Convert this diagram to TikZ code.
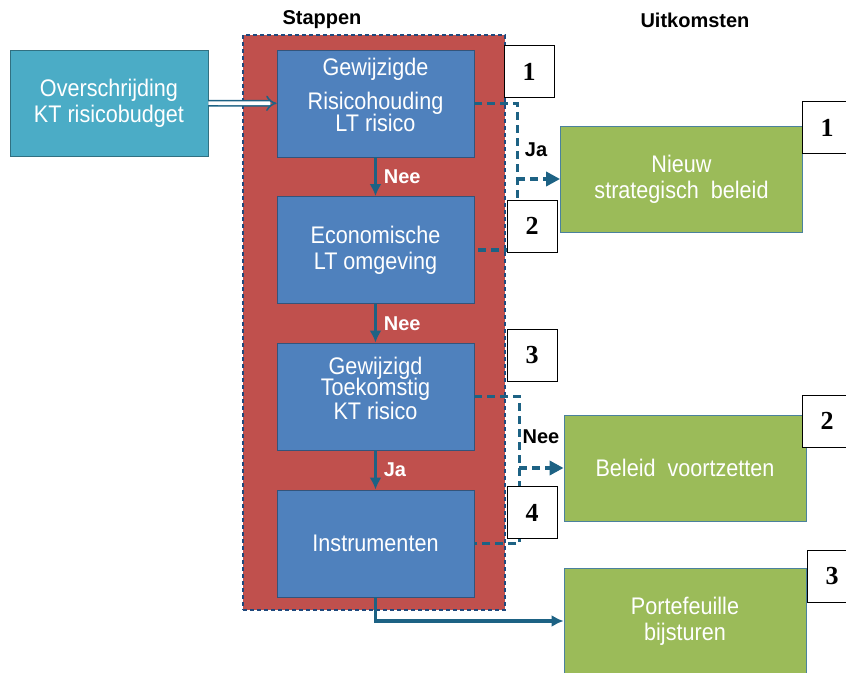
\documentclass[tikz,border=0pt]{standalone}
\usepackage{fontspec}
\setsansfont{Liberation Sans}
\newfontfamily\narrowfont[FakeStretch=0.9]{Liberation Sans}
\newfontfamily\numfont{Liberation Serif}
\usetikzlibrary{arrows.meta}
\definecolor{ktteal}{HTML}{4BACC6}
\definecolor{stapred}{HTML}{C0504D}
\definecolor{stapblue}{HTML}{4F81BD}
\definecolor{uitgreen}{HTML}{9BBB59}
\definecolor{linkblue}{HTML}{1D6284}
\definecolor{framedash}{HTML}{1F497D}
\tikzset{
  box/.style={draw=#1!65!black, fill=#1, text=white, align=center, inner sep=0pt,
    font=\narrowfont\fontsize{12}{13}\selectfont},
  stapbox/.style={box=stapblue, minimum width=98.5pt, minimum height=53.5pt},
  uitbox/.style={box=uitgreen, draw=linkblue!80, minimum width=121pt, minimum height=53pt},
  numbox/.style={draw=black, fill=white, minimum width=25pt, minimum height=26pt, inner sep=0pt,
    font=\numfont\bfseries\fontsize{13}{13}\selectfont},
  flow/.style={draw=linkblue, line width=1.7pt, -{Latex[length=6pt,width=6pt]}},
  dashlink/.style={draw=linkblue, line width=1.8pt, dash pattern=on 4pt off 2.5pt},
  lab/.style={font=\sffamily\bfseries\fontsize{10}{12}\selectfont}
}
\begin{document}
\begin{tikzpicture}[x=0.5pt,y=-0.5pt]
  \useasboundingbox (0,0) rectangle (846,673);
  \node[lab] (stappen) at (322,20) {Stappen};
  \node[lab] (uitkomsten) at (695,20) {Uitkomsten};
  \node[box=ktteal, minimum width=99pt, minimum height=53pt] (kt) at (109,103) {Overschrijding\\KT risicobudget};
  \node[draw=framedash, fill=stapred, dash pattern=on 2pt off 1.5pt, line width=0.8pt,
    minimum width=131pt, minimum height=287.5pt] (frame) at (374,322.5) {};
  \node[stapbox] (s1) at (375.5,103.5) {Gewijzigde\\[4pt]Risicohouding\\[-2pt]LT risico\\[-4pt]\mbox{}};
  \node[stapbox] (s2) at (375.5,250) {Economische\\LT omgeving};
  \node[stapbox] (s3) at (375.5,396.5) {Gewijzigd\\[-2.5pt]Toekomstig\\[-1pt]KT risico\\[-5pt]\mbox{}};
  \node[stapbox] (s4) at (375.5,543.5) {Instrumenten};
  \node[uitbox] (u1) at (681.5,179) {Nieuw\\strategisch\ \ beleid};
  \node[uitbox] (u2) at (685,468) {Beleid\ \ voortzetten};
  \node[uitbox] (u3) at (685,621) {Portefeuille\\bijsturen};
  \draw[draw=linkblue, line width=0.8pt, double=white, double distance=1.8pt, -{Implies}] (kt) -- (s1);
  \draw[flow] (s1) -- node[lab, text=white, right] (nee1) {Nee} (s2);
  \draw[flow] (s2) -- node[lab, text=white, right] (nee2) {Nee} (s3);
  \draw[flow] (s3) -- node[lab, text=white, right] (ja2) {Ja} (s4);
  \draw[flow] (s4.south) |- (u3.west);
  \draw[dashlink] (s1.east) -- ++(43,0) coordinate (b1) |- (s2.east);
  \draw[dashlink, -{Triangle[length=7pt,width=7pt]}] (b1 |- u1.west) -- (u1.west);
  \draw[dashlink] (s3.east) -- ++(45,0) coordinate (b2) |- (s4.east);
  \draw[dashlink, -{Triangle[length=7pt,width=7pt]}] (b2 |- u2.west) -- (u2.west);
  \node[lab] (ja1) at (536,150) {Ja};
  \node[lab] (nee3) at (541,437) {Nee};
  \node[numbox] (n1) at (529,71.5) {1};
  \node[numbox] (n2) at (532,226) {2};
  \node[numbox] (n3) at (532,355) {3};
  \node[numbox] (n4) at (532,512.5) {4};
  \node[numbox] (m1) at (827,127.5) {1};
  \node[numbox] (m2) at (827,421) {2};
  \node[numbox] (m3) at (832,576.5) {3};
\end{tikzpicture}
\end{document}
